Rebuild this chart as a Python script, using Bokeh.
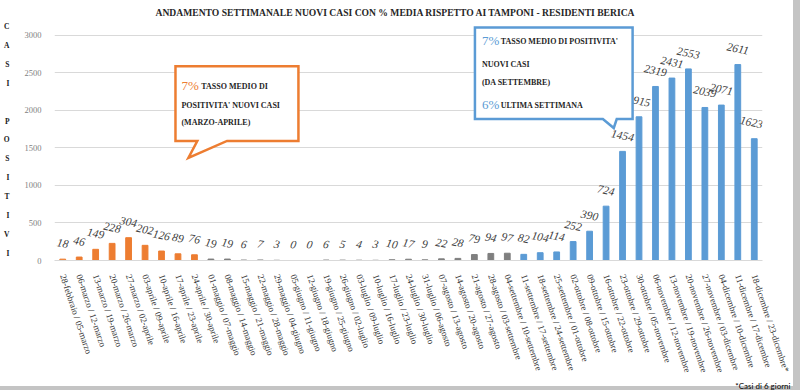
from bokeh.plotting import figure
from bokeh.models import FixedTicker, Label, ColumnDataSource, Title
from bokeh.core.properties import value
from bokeh.embed import file_html
from bokeh.resources import INLINE

# ---------------- data ----------------
weeks = [
    "28-febbraio / 05-marzo", "06-marzo / 12-marzo", "13-marzo / 19-marzo",
    "20-marzo / 26-marzo", "27-marzo / 02-aprile", "03-aprile / 09-aprile",
    "10-aprile / 16-aprile", "17-aprile / 23-aprile", "24-aprile / 30-aprile",
    "01-maggio / 07-maggio", "08-maggio / 14-maggio", "15-maggio / 21-maggio",
    "22-maggio / 28-maggio", "29-maggio / 04-giugno", "05-giugno / 11-giugno",
    "12-giugno / 18-giugno", "19-giugno / 25-giugno", "26-giugno / 02-luglio",
    "03-luglio / 09-luglio", "10-luglio / 16-luglio", "17-luglio / 23-luglio",
    "24-luglio / 30-luglio", "31-luglio / 06-agosto", "07-agosto / 13-agosto",
    "14-agosto / 20-agosto", "21-agosto / 27-agosto", "28-agosto / 03-settembre",
    "04-settembre / 10-settembre", "11-settembre / 17-settembre",
    "18-settembre / 24-settembre", "25-settembre / 01-ottobre",
    "02-ottobre / 08-ottobre", "09-ottobre / 15-ottobre", "16-ottobre / 22-ottobre",
    "23-ottobre / 29-ottobre", "30-ottobre / 05-novembre",
    "06-novembre / 12-novembre", "13-novembre / 19-novembre",
    "20-novembre / 26-novembre", "27-novembre / 03-dicembre",
    "04-dicembre / 10-dicembre", "11-dicembre / 17-dicembre",
    "18-dicembre / 23-dicembre*",
]
cases = [18, 46, 149, 228, 304, 202, 126, 89, 76, 19, 19, 6, 7, 3, 0, 0, 6, 5,
         4, 3, 10, 17, 9, 22, 28, 79, 94, 97, 82, 104, 114, 252, 390, 724,
         1454, 1915, 2319, 2431, 2553, 2039, 2071, 2611, 1623]
value_labels = [str(c) for c in cases[:-1]] + ["1623*"]
periods = ["marzo-aprile"] * 9 + ["maggio-agosto"] * 19 + ["da settembre"] * 15
y_ticks = [0, 500, 1000, 1500, 2000, 2500, 3000]

title_text = ("ANDAMENTO SETTIMANALE NUOVI CASI CON % MEDIA RISPETTO AI TAMPONI"
              " - RESIDENTI BERICA")
y_title = "CASI POSITIVI"
footnote = "*Casi di 6 giorni"

# ---------------- styling ----------------
period_colors = {"marzo-aprile": "#ed7d31", "maggio-agosto": "#7f7f7f",
                 "da settembre": "#5b9bd5"}
SERIF = "Liberation Serif"
W, H = 800, 390
FL, FR, FT, FB = 48, 762, 0, 261
Y0, Y3000 = 261, 35          # pixel rows of value 0 and 3000
N = len(cases)
YMAX = 3000 * (FB - FT) / (Y0 - Y3000)


def dx(cx):
    return (cx - FL) / (FR - FL) * N - 0.5


def dy(cy):
    return (FB - cy) / (FB - FT) * YMAX


src = ColumnDataSource(dict(
    x=list(range(N)), cases=cases, label=value_labels,
    color=[period_colors[p_] for p_ in periods],
))

p = figure(width=W, height=H, x_range=(-0.5, N - 0.5), y_range=(0, YMAX),
           output_backend="svg", toolbar_location=None, title_location=None,
           min_border_left=FL, min_border_right=W - FR,
           min_border_top=FT, min_border_bottom=H - FB)
p.outline_line_color = None
p.background_fill_color = "white"
p.border_fill_alpha = 0
p.styles = {
    "background": ("linear-gradient(to bottom, rgba(0,0,0,0) 386px, #c4c4c4 386px), "
                   "linear-gradient(to right, #ffffff 793px, #c4c4c4 793px)")
}

p.vbar(x="x", top="cases", width=0.35, color="color", source=src)

p.text(x="x", y="cases", text="label", source=src, text_align="center",
       text_baseline="middle", y_offset=-16, angle=-0.2,
       text_font=value(SERIF), text_font_style="italic", text_font_size="11.5px",
       text_color="#404040")

# axes
p.xgrid.visible = False
p.ygrid.grid_line_color = "#d9d9d9"
p.ygrid.ticker = FixedTicker(ticks=y_ticks)

p.yaxis.ticker = FixedTicker(ticks=y_ticks)
p.yaxis.axis_line_color = None
p.yaxis.major_tick_line_color = None
p.yaxis.minor_tick_line_color = None
p.yaxis.major_label_text_font = SERIF
p.yaxis.major_label_text_font_size = "8.5px"
p.yaxis.major_label_text_color = "#7f7f7f"
p.yaxis.major_label_standoff = 7
p.yaxis.axis_label = "\n" + "\n".join(y_title)
p.yaxis.axis_label_orientation = "horizontal"
p.yaxis.axis_label_text_font = SERIF
p.yaxis.axis_label_text_font_size = "7.5px"
p.yaxis.axis_label_text_font_style = "bold"
p.yaxis.axis_label_text_color = "#1a1a1a"
p.yaxis.axis_label_text_line_height = 2.1
p.yaxis.axis_label_standoff = 12

p.xaxis.ticker = FixedTicker(ticks=list(range(N)))
p.xaxis.major_label_overrides = {i: w for i, w in enumerate(weeks)}
p.xaxis.major_label_orientation = -1.25
p.xaxis.axis_line_color = "#d9d9d9"
p.xaxis.major_tick_line_color = None
p.xaxis.minor_tick_line_color = None
p.xaxis.major_label_text_font = SERIF
p.xaxis.major_label_text_font_size = "9px"
p.xaxis.major_label_text_color = "#333333"
p.xaxis.major_label_standoff = 8

# footnote
p.add_layout(Title(text=footnote, align="right", offset=-28, standoff=0,
                   text_font="Lato", text_font_size="8px",
                   text_font_style="normal", text_color="#000000"), "below")


# callouts
def callout(pts, color):
    p.patch([dx(a) for a, b in pts], [dy(b) for a, b in pts],
            fill_color="white", line_color=color, line_width=2.5,
            line_join="miter")


orange_pts = [(170, 66), (294, 66), (294, 141), (222, 141), (183, 158),
              (192, 141), (170, 141)]
blue_pts = [(472, 27), (631, 27), (631, 119), (615, 119), (612, 128),
            (601, 119), (472, 119)]
callout(orange_pts, "#ed7d31")
callout(blue_pts, "#5b9bd5")


def lab(cx, cy, text, size="8px", color="#262626", style="bold",
        align="left", font=SERIF):
    p.add_layout(Label(x=dx(cx), y=dy(cy), text=text, text_font=font,
                       text_font_size=size, text_font_style=style,
                       text_color=color, text_align=align,
                       text_baseline="middle"))


# title
lab(392, 12, title_text, size="9.6px", align="center")

# orange callout text
lab(176, 85, "7%", size="13px", color="#ed7d31", style="normal")
lab(196, 86, "TASSO MEDIO DI")
lab(176, 105, "POSITIVITA' NUOVI CASI")
lab(176, 122, "(MARZO-APRILE)")

# blue callout text
lab(479, 40, "7%", size="13px", color="#5b9bd5", style="normal")
lab(498, 41, "TASSO MEDIO DI POSITIVITA'")
lab(479, 64, "NUOVI CASI")
lab(479, 82, "(DA SETTEMBRE)")
lab(479, 104, "6%", size="13px", color="#5b9bd5", style="normal")
lab(498, 105, "ULTIMA SETTIMANA")

open("out.html", "w").write(file_html(p, INLINE))
